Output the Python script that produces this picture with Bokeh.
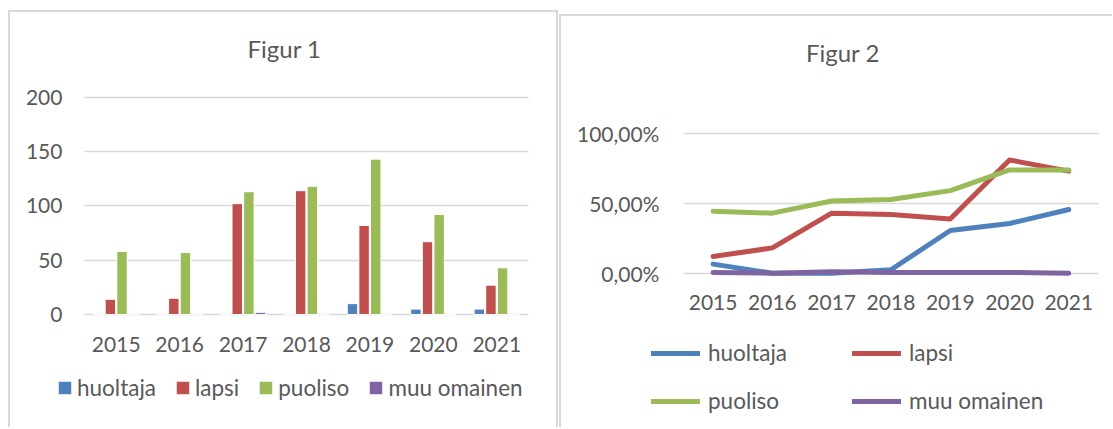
from bokeh.plotting import figure
from bokeh.models import Range1d, Legend, LegendItem, FixedTicker, Label
from bokeh.transform import dodge
from bokeh.layouts import row
from bokeh.embed import file_html
from bokeh.resources import INLINE

years = ["2015", "2016", "2017", "2018", "2019", "2020", "2021"]
series = ["huoltaja", "lapsi", "puoliso", "muu omainen"]
colors = ["#4f81bd", "#c0504d", "#9bbb59", "#8064a2"]

# Figur 1 (counts)
huoltaja_n = [1, 0, 0, 1, 10, 5, 5]
lapsi_n = [14, 15, 102, 114, 82, 67, 27]
puoliso_n = [58, 57, 113, 118, 143, 92, 43]
muu_n = [1, 0, 2, 1, 1, 1, 0]

# Figur 2 (percent)
huoltaja_p = [6.5, 0.0, 0.0, 2.5, 30.5, 35.5, 45.5]
lapsi_p = [11.9, 18.1, 42.9, 41.9, 38.8, 80.9, 72.9]
puoliso_p = [44.3, 42.9, 51.6, 52.6, 59.0, 73.8, 73.8]
muu_p = [0.5, 0.0, 1.0, 0.5, 0.5, 0.5, 0.0]

y1_ticks = [0, 50, 100, 150, 200]
y2_ticks = [0, 50, 100]
y2_tick_labels = ["0,00%", "50,00%", "100,00%"]

x_idx = list(range(len(years)))

FONT = "Lato"
TXT = "#595959"
GRID = "#d9d9d9"
FS = "21px"
LFS = "22.5px"


def style_axes(p, xstand, ystand):
    for ax in (p.xaxis[0], p.yaxis[0]):
        ax.axis_line_color = None
        ax.major_tick_line_color = None
        ax.minor_tick_line_color = None
        ax.major_tick_out = 0
        ax.major_tick_in = 0
        ax.minor_tick_out = 0
        ax.major_label_text_font = FONT
        ax.major_label_text_font_size = FS
        ax.major_label_text_color = TXT
    p.xaxis[0].major_label_standoff = xstand
    p.xaxis[0].fixed_location = 0
    p.xaxis[0].ticker = FixedTicker(ticks=x_idx)
    p.xaxis[0].major_label_overrides = {i: y for i, y in zip(x_idx, years)}
    p.yaxis[0].major_label_standoff = ystand
    p.yaxis[0].fixed_location = -0.5
    p.xgrid.grid_line_color = None
    p.ygrid.grid_line_color = GRID
    p.ygrid.grid_line_width = 1.5
    p.ygrid.cross_bounds = (-0.5, len(years) - 0.5)


def add_title(p, text, x, y):
    p.add_layout(Label(x=x, y=y, text=text,
                       text_align="center", text_baseline="middle", text_font=FONT,
                       text_font_size="24px", text_color=TXT))


# ---------- Figur 1 ----------
p1 = figure(x_range=Range1d(-1.698, 6.973), y_range=Range1d(-104.0, 279.8), title=None,
            width=550, height=417, output_backend="svg", toolbar_location=None,
            min_border_left=0, min_border_right=0, min_border_top=0, min_border_bottom=0,
            background_fill_color=None, border_fill_color=None, outline_line_color=None,
            margin=(10, 0, 0, 8),
            styles={"box-shadow": "inset 2px 2px 0 0 #d9d9d9, inset -2px 0 0 0 #d9d9d9"})
style_axes(p1, 22, 22)
p1.yaxis[0].ticker = FixedTicker(ticks=y1_ticks)
add_title(p1, "Figur 1", 2.653, 244.8)

src1 = dict(x=x_idx, huoltaja=huoltaja_n, lapsi=lapsi_n, puoliso=puoliso_n, muu=muu_n)
offsets = [-0.275, -0.0917, 0.0917, 0.275]
keys = ["huoltaja", "lapsi", "puoliso", "muu"]
bars = []
for k, off, c in zip(keys, offsets, colors):
    r = p1.vbar(x=dodge("x", off), top=k, width=0.165, bottom=0,
                source=src1, fill_color=c, line_color="white", line_width=1)
    bars.append(r)

leg1 = Legend(items=[LegendItem(label=s, renderers=[r]) for s, r in zip(series, bars)],
              location=(48, 26), orientation="horizontal",
              glyph_width=17, glyph_height=17, label_height=24, label_standoff=4, spacing=18,
              padding=0, margin=0, border_line_color=None, background_fill_color=None,
              label_text_font=FONT, label_text_font_size=LFS, label_text_color=TXT)
p1.add_layout(leg1, "center")

# ---------- Figur 2 ----------
p2 = figure(x_range=Range1d(-2.591, 6.737), y_range=Range1d(-110.2, 184.8), title=None,
            width=553, height=413, output_backend="svg", toolbar_location=None,
            min_border_left=0, min_border_right=0, min_border_top=0, min_border_bottom=0,
            background_fill_color=None, border_fill_color=None, outline_line_color=None,
            margin=(14, 0, 0, 1),
            styles={"box-shadow": "inset 2px 2px 0 0 #d9d9d9"})
style_axes(p2, 22, 24)
p2.yaxis[0].ticker = FixedTicker(ticks=y2_ticks)
p2.yaxis[0].major_label_overrides = {t: l for t, l in zip(y2_ticks, y2_tick_labels)}
add_title(p2, "Figur 2", 2.19, 157.6)

lines = []
for vals, c in zip([huoltaja_p, lapsi_p, puoliso_p, muu_p], colors):
    r = p2.line(x_idx, vals, line_color=c, line_width=5, line_cap="round", line_join="round")
    lines.append(r)

common = dict(orientation="vertical", glyph_width=49, glyph_height=24, label_height=24,
              label_standoff=8, spacing=21, padding=0, margin=0,
              border_line_color=None, background_fill_color=None,
              label_text_font=FONT, label_text_font_size=LFS, label_text_color=TXT)
leg2a = Legend(items=[LegendItem(label=series[0], renderers=[lines[0]]),
                      LegendItem(label=series[2], renderers=[lines[2]])],
               location=(92, 13), **common)
leg2b = Legend(items=[LegendItem(label=series[1], renderers=[lines[1]]),
                      LegendItem(label=series[3], renderers=[lines[3]])],
               location=(293, 13), **common)
p2.add_layout(leg2a, "center")
p2.add_layout(leg2b, "center")

layout = row(p1, p2)
open("out.html", "w").write(file_html(layout, INLINE))
